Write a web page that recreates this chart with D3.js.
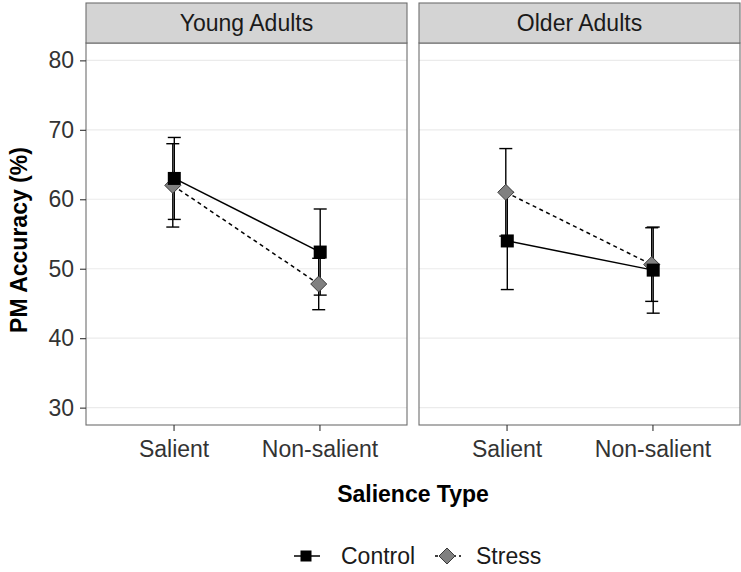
<!DOCTYPE html>
<html>
<head>
<meta charset="utf-8">
<script src="https://cdn.jsdelivr.net/npm/d3@7"></script>
<style>
  html, body { margin: 0; padding: 0; background: #fff; }
  svg { display: block; font-family: "Liberation Sans", Arial, sans-serif; }
</style>
</head>
<body>
<svg id="chart" width="741" height="572"></svg>
<script>
// ---- data ----
const groups = ["Young Adults", "Older Adults"];
const salienceTypes = ["Salient", "Non-salient"];
const conditions = ["Control", "Stress"];
// means per group (rows) x salience type (columns)
const controlMeans = [[63.0, 52.4], [54.0, 49.8]];
const controlErr   = [[5.9, 6.2], [7.0, 6.2]];
const stressMeans  = [[62.0, 47.8], [61.0, 50.6]];
const stressErr    = [[6.0, 3.7], [6.3, 5.3]];
const yTicks = [30, 40, 50, 60, 70, 80];

// ---- layout ----
const svg = d3.select("#chart");
const panelTop = 43, panelBottom = 425, stripTop = 3;
const panels = [{x0: 86, x1: 407}, {x0: 419, x1: 740}];
const y = d3.scaleLinear().domain([27.5, 82.5]).range([panelBottom, panelTop]);
const dodge = {Control: 0.75, Stress: -0.75};
const fontSize = 23;

const seriesData = {
  Control: {means: controlMeans, err: controlErr},
  Stress: {means: stressMeans, err: stressErr}
};

groups.forEach((g, gi) => {
  const p = panels[gi];
  const x = d3.scalePoint().domain(salienceTypes).range([p.x0, p.x1]).padding(0.6);
  const gp = svg.append("g");

  // background
  gp.append("rect").attr("x", p.x0).attr("y", panelTop).attr("width", p.x1 - p.x0)
    .attr("height", panelBottom - panelTop).attr("fill", "#fff");
  // gridlines
  gp.selectAll("line.grid").data(yTicks).enter().append("line")
    .attr("x1", p.x0).attr("x2", p.x1)
    .attr("y1", d => y(d)).attr("y2", d => y(d))
    .attr("stroke", "#ebebeb").attr("stroke-width", 1.2);

  // error bars: Stress first, control on top
  ["Stress", "Control"].forEach(cond => {
    const s = seriesData[cond];
    const pts = salienceTypes.map((st, si) => ({
      x: x(st) + dodge[cond],
      m: s.means[gi][si],
      lo: s.means[gi][si] - s.err[gi][si],
      hi: s.means[gi][si] + s.err[gi][si]
    }));
    pts.forEach(d => {
      gp.append("line").attr("x1", d.x).attr("x2", d.x).attr("y1", y(d.lo)).attr("y2", y(d.hi))
        .attr("stroke", "#000").attr("stroke-width", 1.4);
      [d.lo, d.hi].forEach(v => {
        gp.append("line").attr("x1", d.x - 6.5).attr("x2", d.x + 6.5).attr("y1", y(v)).attr("y2", y(v))
          .attr("stroke", "#000").attr("stroke-width", 1.4);
      });
    });
  });
  ["Stress", "Control"].forEach(cond => {
    const s = seriesData[cond];
    const pts = salienceTypes.map((st, si) => ({x: x(st) + dodge[cond], m: s.means[gi][si]}));
    gp.append("path")
      .attr("d", d3.line().x(d => d.x).y(d => y(d.m))(pts))
      .attr("fill", "none").attr("stroke", "#000").attr("stroke-width", 1.5)
      .attr("stroke-dasharray", cond === "Stress" ? "4,3.5" : null);
  });
  ["Stress", "Control"].forEach(cond => {
    const s = seriesData[cond];
    salienceTypes.forEach((st, si) => {
      const cx = x(st) + dodge[cond], cy = y(s.means[gi][si]);
      if (cond === "Control") {
        gp.append("rect").attr("x", cx - 6.5).attr("y", cy - 6.5).attr("width", 13).attr("height", 13)
          .attr("fill", "#000");
      } else {
        const r = 8;
        gp.append("path").attr("d", `M${cx},${cy - r}L${cx + r},${cy}L${cx},${cy + r}L${cx - r},${cy}Z`)
          .attr("fill", "#808080").attr("stroke", "#3a3a3a").attr("stroke-width", 1);
      }
    });
  });

  // panel border
  gp.append("rect").attr("x", p.x0).attr("y", panelTop).attr("width", p.x1 - p.x0)
    .attr("height", panelBottom - panelTop).attr("fill", "none").attr("stroke", "#6e6e6e").attr("stroke-width", 1.1);
  // strip
  gp.append("rect").attr("x", p.x0).attr("y", stripTop).attr("width", p.x1 - p.x0)
    .attr("height", panelTop - stripTop).attr("fill", "#d4d4d4").attr("stroke", "#6e6e6e").attr("stroke-width", 1.1);
  gp.append("text").attr("x", (p.x0 + p.x1) / 2).attr("y", (stripTop + panelTop) / 2)
    .attr("dy", "0.36em").attr("text-anchor", "middle")
    .attr("font-size", fontSize).attr("fill", "#1a1a1a").text(g);

  // x axis
  const xAxis = d3.axisBottom(x).tickSize(6).tickPadding(10);
  const ga = svg.append("g").attr("transform", `translate(0,${panelBottom})`).call(xAxis);
  ga.select(".domain").remove();
  ga.selectAll(".tick line").attr("stroke", "#333").attr("stroke-width", 1.1);
  ga.selectAll(".tick text").attr("font-size", fontSize).attr("fill", "#333")
    .attr("font-family", "Liberation Sans, Arial, sans-serif");
});

// y axis (left panel)
const yAxis = d3.axisLeft(y).tickValues(yTicks).tickSize(6).tickPadding(6);
const gy = svg.append("g").attr("transform", `translate(${panels[0].x0},0)`).call(yAxis);
gy.select(".domain").remove();
gy.selectAll(".tick line").attr("stroke", "#333").attr("stroke-width", 1.1);
gy.selectAll(".tick text").attr("font-size", fontSize).attr("fill", "#333")
  .attr("font-family", "Liberation Sans, Arial, sans-serif");

// axis titles
svg.append("text").attr("x", (panels[0].x0 + panels[1].x1) / 2).attr("y", 502)
  .attr("text-anchor", "middle").attr("font-size", fontSize).attr("font-weight", "bold")
  .attr("fill", "#000").text("Salience Type");
svg.append("text").attr("transform", `translate(27,${(panelTop + panelBottom) / 2 + 6}) rotate(-90)`)
  .attr("text-anchor", "middle").attr("font-size", fontSize).attr("font-weight", "bold")
  .attr("fill", "#000").text("PM Accuracy (%)");

// legend
const legY = 556;
const legItems = [
  {name: conditions[0], kx: 306, tx: 341},
  {name: conditions[1], kx: 447, tx: 476}
];
legItems.forEach(it => {
  const lg = svg.append("g");
  lg.append("line").attr("x1", it.kx - 12).attr("x2", it.kx + 14).attr("y1", legY).attr("y2", legY)
    .attr("stroke", "#000").attr("stroke-width", 1.5)
    .attr("stroke-dasharray", it.name === "Stress" ? "3,3" : null);
  if (it.name === "Control") {
    lg.append("rect").attr("x", it.kx - 5.5).attr("y", legY - 5.5).attr("width", 11).attr("height", 11).attr("fill", "#000");
  } else {
    const r = 8, cx = it.kx, cy = legY;
    lg.append("path").attr("d", `M${cx},${cy - r}L${cx + r},${cy}L${cx},${cy + r}L${cx - r},${cy}Z`)
      .attr("fill", "#808080").attr("stroke", "#3a3a3a").attr("stroke-width", 1);
  }
  lg.append("text").attr("x", it.tx).attr("y", legY).attr("dy", "0.36em")
    .attr("font-size", fontSize).attr("fill", "#1a1a1a").text(it.name);
});
</script>
</body>
</html>
